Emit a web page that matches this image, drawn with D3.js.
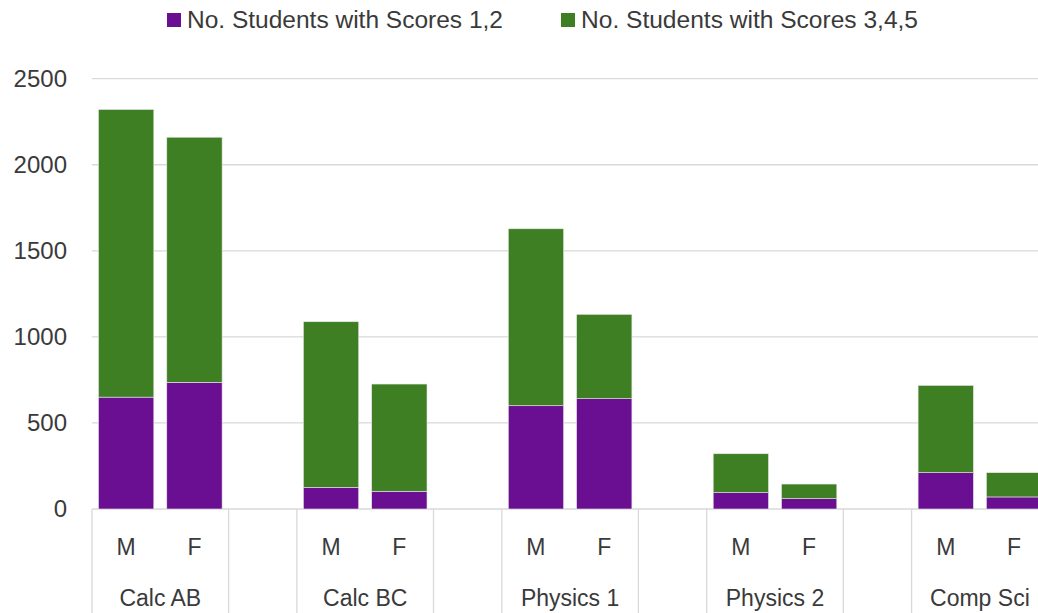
<!DOCTYPE html>
<html>
<head>
<meta charset="utf-8">
<script src="https://cdn.jsdelivr.net/npm/d3@7"></script>
<style>
  body { margin: 0; background: #fff; overflow: hidden; }
  svg { display: block; font-family: "Liberation Sans", Arial, sans-serif; }
</style>
</head>
<body>
<svg id="chart" width="1038" height="613"></svg>
<script>
// data
const courses = ["Calc AB", "Calc BC", "Physics 1", "Physics 2", "Comp Sci"];
const genders = ["M", "F"];
const seriesNames = ["No. Students with Scores 1,2", "No. Students with Scores 3,4,5"];
const scores12 = [650, 736, 126, 103, 600, 641, 95, 60, 211, 70];
const scores345 = [1671, 1424, 962, 623, 1028, 490, 226, 85, 507, 141];
const yTicks = [0, 500, 1000, 1500, 2000, 2500];
const colors = ["#6a0e92", "#3d7f22"];

// slots: M, F, then a blank between each course
const slots = [];
courses.forEach((c, ci) => {
  genders.forEach((g, gi) => slots.push({ key: c + "-" + g, course: c, gender: g, i: ci * 2 + gi }));
  if (ci < courses.length - 1) slots.push({ key: "gap-" + ci, gap: true });
});

const rows = slots.filter((s) => !s.gap).map((s) => ({
  key: s.key,
  course: s.course,
  gender: s.gender,
  low: scores12[s.i],
  high: scores345[s.i]
}));

const svg = d3.select("#chart");
const left = 92, step = 68.3;
const baseY = 509, topY = 78.7;

const x = d3.scaleBand()
  .domain(slots.map((s) => s.key))
  .range([left, left + step * slots.length])
  .paddingInner(0.19)
  .paddingOuter(0.095);

const y = d3.scaleLinear().domain([0, 2500]).range([baseY, topY]);

// gridlines
svg.append("g")
  .selectAll("line")
  .data(yTicks)
  .join("line")
  .attr("x1", left)
  .attr("x2", 1038)
  .attr("y1", (d) => y(d))
  .attr("y2", (d) => y(d))
  .attr("stroke", "#d9d9d9")
  .attr("stroke-width", 1.3);

// y labels
svg.append("g")
  .selectAll("text")
  .data(yTicks)
  .join("text")
  .attr("x", 67)
  .attr("y", (d) => y(d))
  .attr("dy", "0.35em")
  .attr("text-anchor", "end")
  .attr("font-size", 24)
  .attr("fill", "#3a3a3a")
  .text((d) => d);

// stacked bars
const stacked = d3.stack().keys(["low", "high"])(rows);

svg.append("g")
  .selectAll("g")
  .data(stacked)
  .join("g")
  .attr("fill", (d, i) => colors[i])
  .selectAll("rect")
  .data((d) => d)
  .join("rect")
  .attr("x", (d) => x(d.data.key))
  .attr("width", x.bandwidth())
  .attr("y", (d) => y(d[1]))
  .attr("height", (d) => y(d[0]) - y(d[1]))
  .attr("stroke", "#e8e8e8")
  .attr("stroke-width", 0.6);

// category separators at group boundaries
const half = (x.step() - x.bandwidth()) / 2;
const bounds = [];
courses.forEach((c) => {
  bounds.push(x(c + "-M") - half, x(c + "-F") + x.bandwidth() + half);
});

svg.append("g")
  .selectAll("line")
  .data(bounds)
  .join("line")
  .attr("x1", (d) => d)
  .attr("x2", (d) => d)
  .attr("y1", baseY)
  .attr("y2", 613)
  .attr("stroke", "#d9d9d9")
  .attr("stroke-width", 1.3);

// M / F labels
svg.append("g")
  .selectAll("text")
  .data(rows)
  .join("text")
  .attr("x", (d) => x(d.key) + x.bandwidth() / 2)
  .attr("y", 547)
  .attr("dy", "0.35em")
  .attr("text-anchor", "middle")
  .attr("font-size", 23)
  .attr("fill", "#3a3a3a")
  .text((d) => d.gender);

// course labels
svg.append("g")
  .selectAll("text")
  .data(courses)
  .join("text")
  .attr("x", (c) => (x(c + "-M") + x(c + "-F") + x.bandwidth()) / 2)
  .attr("y", 598)
  .attr("dy", "0.35em")
  .attr("text-anchor", "middle")
  .attr("font-size", 23)
  .attr("fill", "#3a3a3a")
  .text((c) => c);

// legend
const legendX = [167, 561];
const legendW = [316, 337];
const legend = svg.append("g")
  .selectAll("g")
  .data(seriesNames)
  .join("g")
  .attr("transform", (d, i) => `translate(${legendX[i]},20)`);

legend.append("rect")
  .attr("x", 0)
  .attr("y", -7)
  .attr("width", 14)
  .attr("height", 14)
  .attr("fill", (d, i) => colors[i]);

legend.append("text")
  .attr("x", 20)
  .attr("dy", "0.35em")
  .attr("font-size", 23)
  .attr("fill", "#3a3a3a")
  .attr("textLength", (d, i) => legendW[i])
  .attr("lengthAdjust", "spacingAndGlyphs")
  .text((d) => d);
</script>
</body>
</html>
